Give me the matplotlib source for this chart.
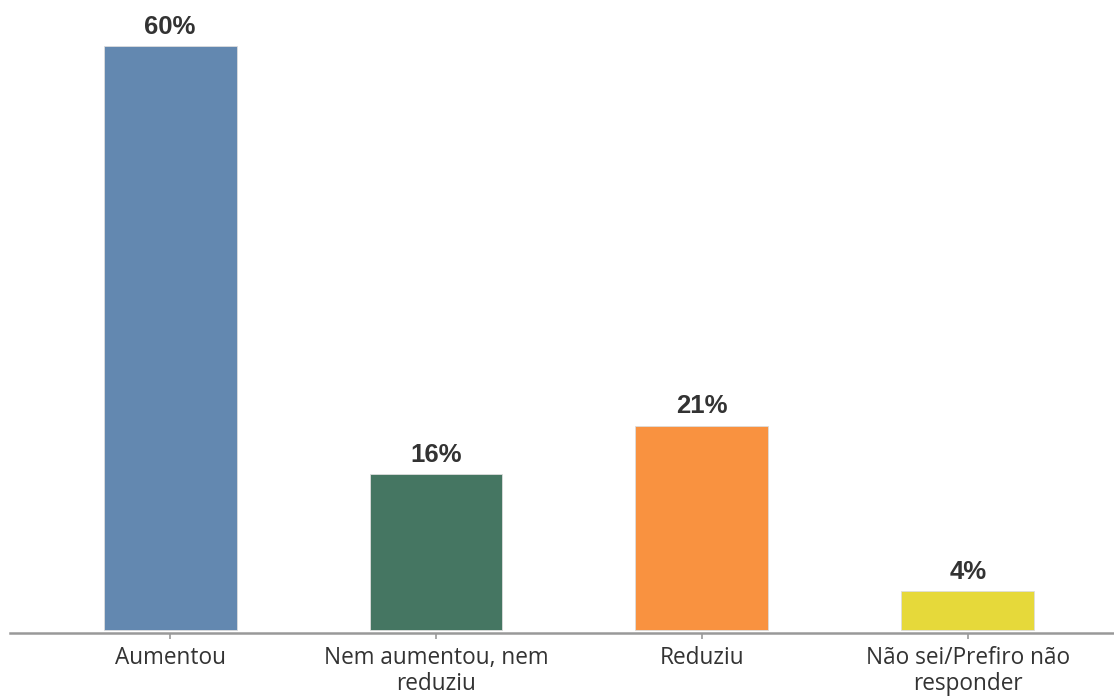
import matplotlib.pyplot as plt

categories = ["Aumentou", "Nem aumentou, nem\nreduziu", "Reduziu", "Não sei/Prefiro não\nresponder"]
values = [60, 16, 21, 4]
colors = ["#6388B0", "#457662", "#F99240", "#E6D93A"]

fig = plt.figure(figsize=(11.14, 6.97), dpi=100)
ax = fig.add_axes([0.009, 0.0918, 0.991, 0.9082])

x = range(len(categories))
bars = ax.bar(x, values, width=0.5, color=colors, edgecolor="#dddddd", linewidth=0.6)

for xi, v in zip(x, values):
    ax.text(xi, v + 0.75, f"{v}%", ha="center", va="bottom",
            fontsize=18.5, fontweight="bold", color="#333333", family="Liberation Sans")

ax.set_xlim(-0.6015, 3.549)
ax.set_ylim(-0.31, 64.75)
ax.set_xticks(list(x))
ax.set_xticklabels(categories, fontsize=16.3, color="#333333", family="Open Sans", linespacing=1.15)
ax.set_yticks([])
for s in ["top", "right", "left"]:
    ax.spines[s].set_visible(False)
ax.spines["bottom"].set_color("#999999")
ax.spines["bottom"].set_linewidth(1.8)
ax.tick_params(axis="x", length=4, width=1.2, color="#999999", pad=5)

fig.savefig("out.png", dpi=100)
